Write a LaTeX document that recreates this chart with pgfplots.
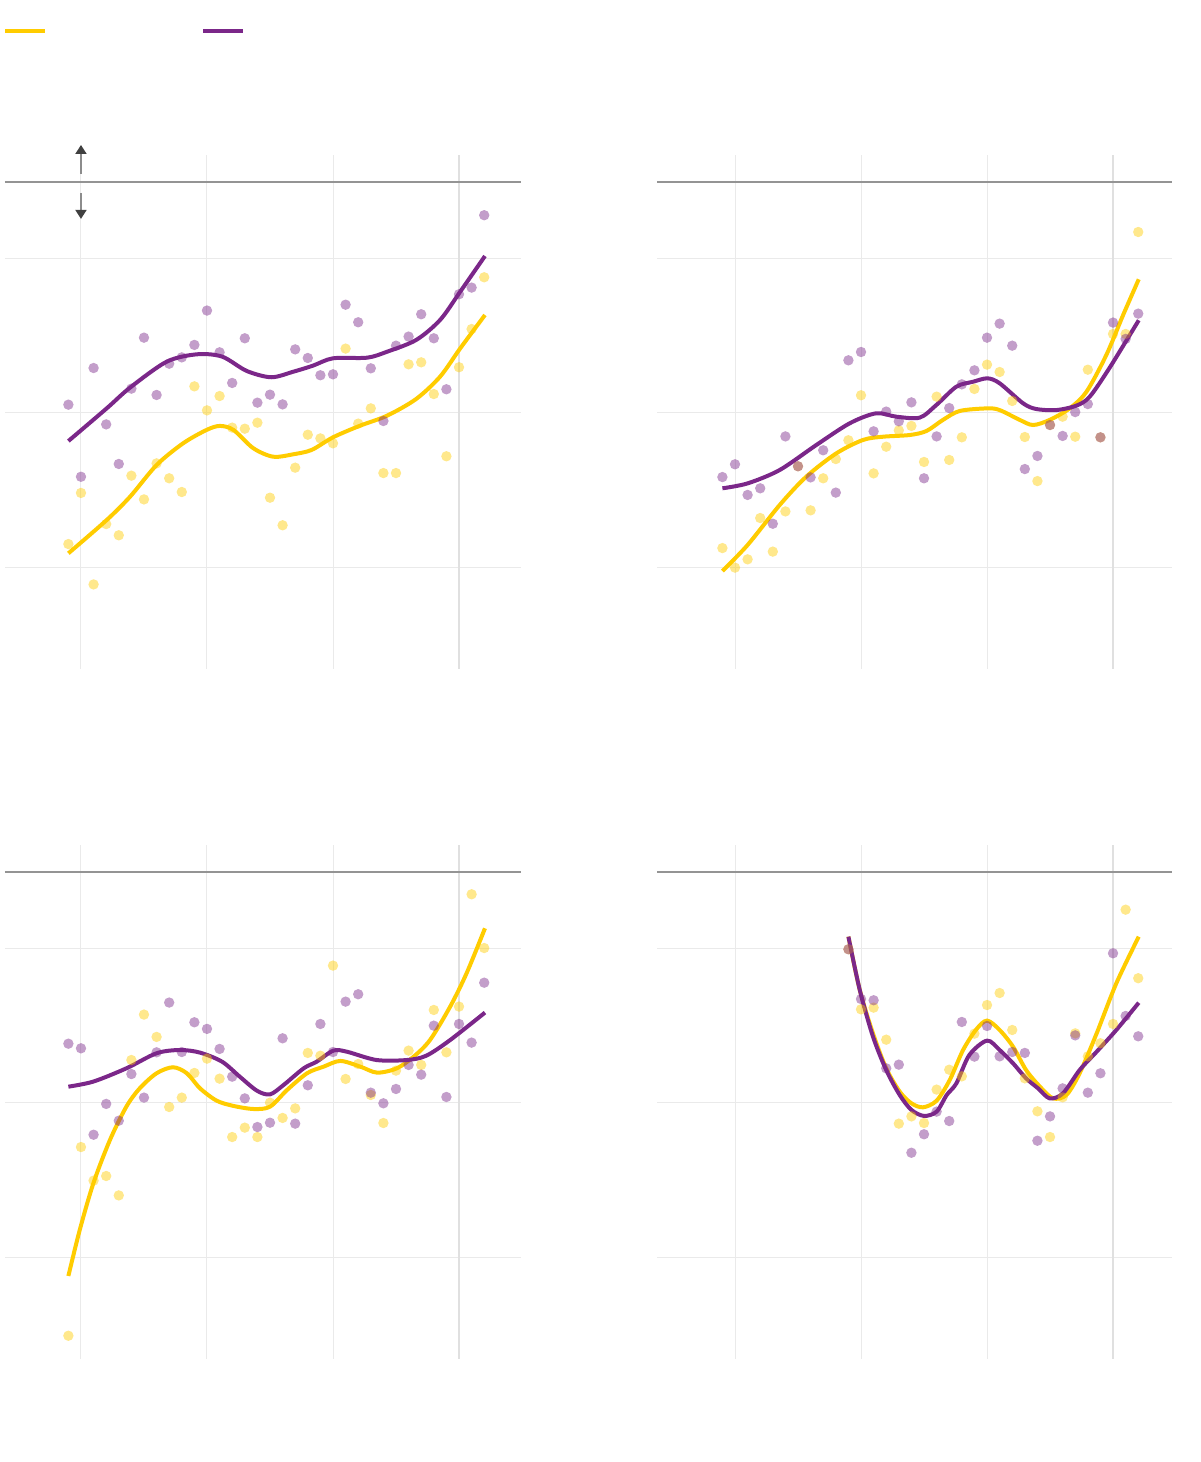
\documentclass[border=0pt]{standalone}
\usepackage{pgfplots}
\pgfplotsset{compat=1.18}
\usetikzlibrary{arrows.meta}
\definecolor{gold}{RGB}{255,204,0}
\definecolor{plum}{RGB}{123,39,137}
\definecolor{gridgray}{RGB}{234,234,234}

% 1 px of the reference = 0.5pt
\pgfplotsset{
  panel/.style={
    scale only axis, height=257pt, anchor=south west,
    ymin=-0.662, ymax=2.675,
    axis line style={draw=none},
    xtick={1990,2000,2010}, ytick={0,1,2},
    xticklabels={}, yticklabels={},
    extra x ticks={2020}, extra x tick labels={},
    extra x tick style={major grid style={color=black!12, line width=0.9pt}},
    extra y ticks={2.5}, extra y tick labels={},
    extra y tick style={major grid style={color=black!42, line width=0.6pt}},
    major tick length=0,
    grid=major, major grid style={gridgray, line width=0.5pt},
    clip=false,
  },
  leftpanel/.style={width=258pt, xmin=1983.97, xmax=2024.92},
  rightpanel/.style={width=257.5pt, xmin=1983.81, xmax=2024.68},
  dots/.style={only marks, mark=*, mark size=2.6pt, color=#1,
    mark options={fill=#1, draw opacity=0, fill opacity=0.45}},
  fit/.style={no marks, smooth, line width=2pt, color=#1},
}

\begin{document}
\begin{tikzpicture}
\useasboundingbox (0pt,0pt) rectangle (600pt,731pt);
% legend swatches
\draw[gold, line width=2pt] (2.5pt,715.5pt) -- (22.5pt,715.5pt);
\draw[plum, line width=2pt] (101.5pt,715.5pt) -- (121.5pt,715.5pt);

% top left
\begin{axis}[panel, leftpanel, at={(2.5pt,396.5pt)}]
\addplot[dots=gold] coordinates {
(1989,0.149) (1990,0.481) (1991,-0.113) (1992,0.279) (1993,0.206) (1994,0.593)
(1995,0.439) (1996,0.673) (1997,0.576) (1998,0.487) (1999,1.173) (2000,1.017)
(2001,1.110) (2002,0.905) (2003,0.898) (2004,0.937) (2005,0.450) (2006,0.271)
(2007,0.645) (2008,0.859) (2009,0.835) (2010,0.803) (2011,1.418) (2012,0.931)
(2013,1.030) (2014,0.610) (2015,0.610) (2016,1.316) (2017,1.329) (2018,1.123)
(2019,0.719) (2020,1.297) (2021,1.545) (2022,1.881)};
\addplot[dots=plum] coordinates {
(1989,1.054) (1990,0.586) (1991,1.292) (1992,0.926) (1993,0.669) (1994,1.158)
(1995,1.489) (1996,1.117) (1997,1.320) (1998,1.361) (1999,1.442) (2000,1.665)
(2001,1.394) (2002,1.195) (2003,1.485) (2004,1.067) (2005,1.119) (2006,1.056)
(2007,1.413) (2008,1.357) (2009,1.245) (2010,1.251) (2011,1.703) (2012,1.589)
(2013,1.290) (2014,0.948) (2015,1.437) (2016,1.496) (2017,1.641) (2018,1.485)
(2019,1.154) (2020,1.771) (2021,1.814) (2022,2.284)};
\addplot[fit=gold] coordinates {
(1989,0.089) (1992.04,0.305) (1993.9,0.457) (1996.0,0.662) (1998.1,0.803)
(1999.97,0.890) (2001.03,0.916) (2002.1,0.890) (2003.68,0.771) (2005.26,0.716)
(2006.85,0.732) (2008.3,0.760) (2010,0.842) (2012.1,0.916) (2014.3,0.983)
(2016.6,1.091) (2018.5,1.236) (2020.1,1.420) (2022.06,1.636)};
\addplot[fit=plum] coordinates {
(1989,0.818) (1992.04,1.030) (1993.9,1.165) (1996.8,1.333) (1999.2,1.381)
(2001.2,1.366) (2003.15,1.273) (2005.1,1.232) (2006.85,1.268) (2008.4,1.307)
(2010.0,1.355) (2012.7,1.359) (2014.3,1.398) (2016.6,1.474) (2018.5,1.604)
(2020.1,1.788) (2022.06,2.019)};
\draw[black!45, line width=0.9pt, -{Triangle[length=4.5pt, width=5.5pt, color=black!75]}]
  (axis cs:1990,2.552) -- (axis cs:1990,2.740);
\draw[black!45, line width=0.9pt, -{Triangle[length=4.5pt, width=5.5pt, color=black!75]}]
  (axis cs:1990,2.429) -- (axis cs:1990,2.260);
\end{axis}

% top right
\begin{axis}[panel, rightpanel, at={(328.5pt,396.5pt)}]
\addplot[dots=gold] coordinates {
(1989,0.123) (1990,-0.004) (1991,0.050) (1992,0.318) (1993,0.100) (1994,0.361)
(1995,0.654) (1996,0.368) (1997,0.576) (1998,0.701) (1999,0.823) (2000,1.115)
(2001,0.608) (2002,0.781) (2003,0.887) (2004,0.916) (2005,0.682) (2006,1.106)
(2007,0.695) (2008,0.842) (2009,1.156) (2010,1.314) (2011,1.266) (2012,1.078)
(2013,0.844) (2014,0.558) (2015,0.922) (2016,0.976) (2017,0.846) (2018,1.281)
(2019,0.842) (2020,1.513) (2021,1.513) (2022,2.175)};
\addplot[dots=plum] coordinates {
(1989,0.584) (1990,0.667) (1991,0.468) (1992,0.511) (1993,0.281) (1994,0.848)
(1995,0.654) (1996,0.582) (1997,0.758) (1998,0.483) (1999,1.342) (2000,1.396)
(2001,0.881) (2002,1.009) (2003,0.946) (2004,1.069) (2005,0.576) (2006,0.848)
(2007,1.032) (2008,1.186) (2009,1.277) (2010,1.489) (2011,1.580) (2012,1.437)
(2013,0.636) (2014,0.721) (2015,0.922) (2016,0.851) (2017,1.006) (2018,1.058)
(2019,0.842) (2020,1.587) (2021,1.481) (2022,1.645)};
\addplot[fit=gold] coordinates {
(1989,-0.026) (1991,0.143) (1993.55,0.403) (1995.66,0.587) (1998.04,0.738)
(2000.16,0.825) (2001.75,0.846) (2003.86,0.857) (2005.19,0.883) (2006.5,0.955)
(2007.83,1.013) (2010.03,1.030) (2011,1.019) (2012.6,0.955) (2013.65,0.922)
(2014.97,0.955) (2016.56,1.030) (2017.9,1.139) (2019.47,1.377) (2020.8,1.636)
(2022.04,1.868)};
\addplot[fit=plum] coordinates {
(1989,0.511) (1991,0.543) (1993.55,0.630) (1996.45,0.792) (1999.1,0.933)
(2001.2,0.998) (2002.8,0.976) (2004.66,0.970) (2005.98,1.052) (2007.57,1.171)
(2008.9,1.203) (2010.03,1.225) (2011.0,1.193) (2012.86,1.063) (2013.9,1.026)
(2015.5,1.019) (2017.1,1.048) (2018.15,1.106) (2019.7,1.290) (2022.04,1.602)};
\end{axis}

% bottom left
\begin{axis}[panel, leftpanel, at={(2.5pt,51.5pt)}]
\addplot[dots=gold] coordinates {
(1989,-0.511) (1990,0.714) (1991,0.496) (1992,0.526) (1993,0.400) (1994,1.279)
(1995,1.574) (1996,1.429) (1997,0.974) (1998,1.035) (1999,1.195) (2000,1.288)
(2001,1.158) (2002,0.779) (2003,0.840) (2004,0.779) (2005,1.002) (2006,0.903)
(2007,0.965) (2008,1.325) (2009,1.307) (2010,1.892) (2011,1.156) (2012,1.253)
(2013,1.052) (2014,0.870) (2015,1.210) (2016,1.340) (2017,1.247) (2018,1.604)
(2019,1.329) (2020,1.626) (2021,2.355) (2022,2.006)};
\addplot[dots=plum] coordinates {
(1989,1.385) (1990,1.355) (1991,0.794) (1992,0.994) (1993,0.885) (1994,1.188)
(1995,1.035) (1996,1.329) (1997,1.652) (1998,1.331) (1999,1.524) (2000,1.481)
(2001,1.351) (2002,1.171) (2003,1.030) (2004,0.844) (2005,0.872) (2006,1.420)
(2007,0.866) (2008,1.115) (2009,1.513) (2010,1.331) (2011,1.658) (2012,1.706)
(2013,1.067) (2014,0.998) (2015,1.091) (2016,1.247) (2017,1.184) (2018,1.502)
(2019,1.039) (2020,1.513) (2021,1.392) (2022,1.781)};
\addplot[fit=gold] coordinates {
(1989,-0.123) (1989.9,0.175) (1990.98,0.478) (1992.3,0.760) (1993.6,0.976)
(1994.66,1.095) (1996,1.193) (1997.3,1.232) (1998.4,1.193) (1999.45,1.095)
(2000.77,1.015) (2002.1,0.981) (2003.7,0.961) (2005,0.976) (2006.35,1.084)
(2007.94,1.193) (2009.26,1.236) (2010.58,1.273) (2012.17,1.236) (2013.5,1.197)
(2015.06,1.225) (2016.4,1.301) (2017.7,1.409) (2019.3,1.626) (2020.6,1.842)
(2022.06,2.134)};
\addplot[fit=plum] coordinates {
(1989,1.106) (1990.98,1.139) (1993.6,1.225) (1996,1.323) (1997.86,1.344)
(1999.45,1.327) (2001.2,1.268) (2002.6,1.171) (2003.96,1.080) (2005,1.056)
(2006.08,1.117) (2007.67,1.225) (2008.7,1.268) (2010.03,1.340) (2011.1,1.333)
(2013.45,1.279) (2015.85,1.279) (2017.4,1.307) (2019.3,1.409) (2022.06,1.587)};
\end{axis}

% bottom right
\begin{axis}[panel, rightpanel, at={(328.5pt,51.5pt)}]
\addplot[dots=gold] coordinates {
(1999,1.998) (2000,1.608) (2001,1.619) (2002,1.411) (2003,0.866) (2004,0.913)
(2005,0.870) (2006,1.087) (2007,1.216) (2008,1.173) (2009,1.450) (2010,1.636)
(2011,1.714) (2012,1.474) (2013,1.160) (2014,0.946) (2015,0.779) (2016,1.037)
(2017,1.452) (2018,1.303) (2019,1.388) (2020,1.513) (2021,2.255) (2022,1.810)};
\addplot[dots=plum] coordinates {
(1999,1.998) (2000,1.675) (2001,1.667) (2002,1.225) (2003,1.249) (2004,0.677)
(2005,0.797) (2006,0.944) (2007,0.883) (2008,1.526) (2009,1.301) (2010,1.500)
(2011,1.303) (2012,1.331) (2013,1.325) (2014,0.755) (2015,0.913) (2016,1.095)
(2017,1.439) (2018,1.067) (2019,1.193) (2020,1.972) (2021,1.565) (2022,1.433)};
\addplot[fit=gold] coordinates {
(1999,2.080) (1999.9,1.734) (2000.95,1.452) (2002,1.225) (2003.07,1.074)
(2004,0.998) (2004.92,0.972) (2006,1.015) (2007.04,1.149) (2008.1,1.344)
(2009.15,1.478) (2010,1.535) (2011,1.474) (2012.06,1.366) (2013.1,1.214)
(2014.2,1.106) (2015.24,1.030) (2016.3,1.052) (2017.35,1.193) (2018.7,1.452)
(2020.26,1.777) (2022.04,2.080)};
\addplot[fit=plum] coordinates {
(1999,2.080) (1999.9,1.734) (2000.95,1.431) (2002,1.214) (2003.07,1.052)
(2004,0.955) (2005,0.916) (2006,0.944) (2006.8,1.052) (2007.57,1.128)
(2008.6,1.312) (2010,1.405) (2011,1.344) (2012.06,1.258) (2013.1,1.160)
(2014.05,1.095) (2014.97,1.030) (2016.03,1.063) (2017.35,1.214) (2018.7,1.333)
(2020.26,1.474) (2022.04,1.651)};
\end{axis}
\end{tikzpicture}
\end{document}
